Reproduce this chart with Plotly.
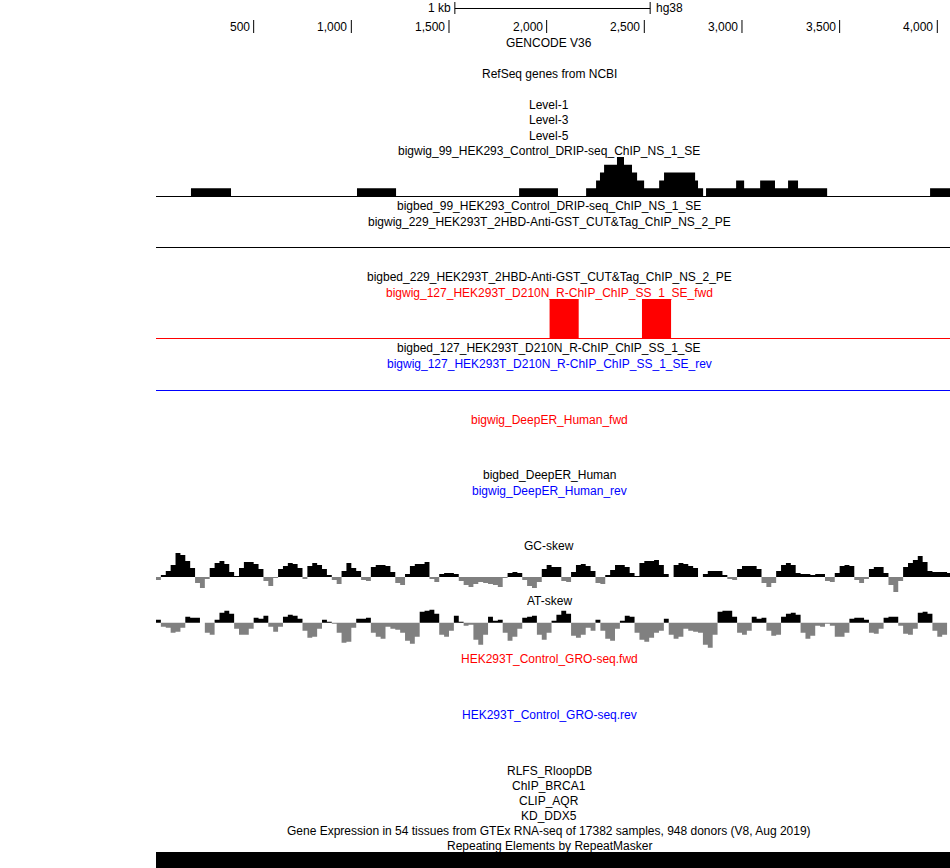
import plotly.graph_objects as go

W, H = 950, 868
X0_PX = 156
X_RANGE = [0, 4065]

# ---------------- data ----------------
ruler_ticks = [500, 1000, 1500, 2000, 2500, 3000, 3500, 4000]
ruler_labels = ["500", "1,000", "1,500", "2,000", "2,500", "3,000", "3,500", "4,000"]
scale_bar_start = 1530
scale_bar_len = 1000

# DRIP-seq signal (bigwig_99): segment start, end (bp) and level
drip_start = [179, 1029, 1859, 2202, 2253, 2273, 2294, 2360, 2396, 2437, 2463, 2499, 2576, 2601, 2760, 2775,
              2816, 2970, 3011, 3093, 3169, 3236, 3287, 3963]
drip_end = [384, 1229, 2058, 2253, 2273, 2294, 2360, 2396, 2437, 2463, 2499, 2576, 2601, 2760, 2775, 2801,
            2970, 3011, 3093, 3169, 3236, 3287, 3436, 4065]
drip_level = [1, 1, 1, 1, 2, 3, 4, 5, 4, 3, 2, 1, 2, 3, 2, 1,
              1, 2, 1, 2, 1, 2, 1, 1]

# R-ChIP fwd signal (bigwig_127 fwd)
rchip_start = [2015, 2488]
rchip_end = [2164, 2637]
rchip_level = [1, 1]

# GC / AT skew, 25 bp bins starting at 0
skew_bin = 25
gc_skew = [-3, 2, 6, 12, 24, 22, 16, 9, -6, -11, -2, 9, 14, 16, 13, 5, 1, 9, 15, 15,
           13, 8, -4, -9, -1, 8, 11, 14, 13, 9, -2, 11, 14, 12, 8, 2, -3, -7, 6, 14,
           9, 6, -3, -4, 10, 12, 12, 11, 5, -6, -8, 3, 11, 13, 13, 15, -2, -5, 3, 4,
           4, 3, -4, -8, -10, -7, -5, -6, -7, -8, -10, -1, 4, 5, 4, -3, -9, -11, -5, 8,
           12, 10, 10, -4, -5, 5, 12, 13, 11, 6, -6, -7, 2, 7, 12, 12, 10, 4, 1, 14,
           16, 16, 17, 12, 3, 0, 12, 14, 13, 11, 9, 0, 3, 6, 6, 6, 2, -2, -3, 8,
           11, 11, 11, 8, -6, -10, -6, 6, 12, 14, 12, 4, 3, 3, 2, 3, 3, -4, -5, 4,
           11, 12, 11, -3, -6, -2, 8, 10, 10, 4, -8, -15, -4, 10, 14, 17, 21, 15, 6, 5,
           5, 5, 4]
at_skew = [3, -4, -5, -10, -9, -5, 6, 5, 5, 0, -10, -12, 3, 10, 12, 9, -6, -12, -12, -6,
           5, 4, 7, -4, -9, -4, 6, 8, 7, 4, -8, -15, -14, -6, 3, 1, -1, -10, -20, -19,
           -5, 4, 4, 5, -10, -14, -16, -4, -6, -7, -10, -18, -21, -14, 11, 12, 13, 9, -12, -14,
           -8, 7, 1, -3, -2, -17, -22, -12, 6, 2, 3, -10, -18, -14, -6, 5, 6, 7, -12, -17,
           -10, 2, 8, 12, 9, -13, -15, -12, -5, -8, 3, -8, -16, -18, -6, 2, 7, 6, -10, -17,
           -19, -15, -10, -8, 4, -12, -16, -14, -6, -8, -9, -10, -22, -25, -12, 11, 12, 12, 6, -10,
           -12, -8, 6, 4, 5, -8, -13, -12, 6, 9, 10, 8, -10, -16, -13, -3, -4, -1, -3, -14,
           -14, -10, 4, 5, 5, 3, -10, -11, -6, 5, 6, 6, -3, -11, -12, -6, 10, 11, 9, -8,
           -14, -12, 0]

# RepeatMasker element covering the window
repeat_start = [0]
repeat_end = [4065]

# track labels: (text, y pixel, color)
labels = [
    ("GENCODE V36", 43, "black"),
    ("RefSeq genes from NCBI", 74, "black"),
    ("Level-1", 105, "black"),
    ("Level-3", 120, "black"),
    ("Level-5", 136, "black"),
    ("bigwig_99_HEK293_Control_DRIP-seq_ChIP_NS_1_SE", 151, "black"),
    ("bigbed_99_HEK293_Control_DRIP-seq_ChIP_NS_1_SE", 206, "black"),
    ("bigwig_229_HEK293T_2HBD-Anti-GST_CUT&Tag_ChIP_NS_2_PE", 222, "black"),
    ("bigbed_229_HEK293T_2HBD-Anti-GST_CUT&Tag_ChIP_NS_2_PE", 277, "black"),
    ("bigwig_127_HEK293T_D210N_R-ChIP_ChIP_SS_1_SE_fwd", 293, "#ff0000"),
    ("bigbed_127_HEK293T_D210N_R-ChIP_ChIP_SS_1_SE", 348, "black"),
    ("bigwig_127_HEK293T_D210N_R-ChIP_ChIP_SS_1_SE_rev", 364, "#0000ff"),
    ("bigwig_DeepER_Human_fwd", 420, "#ff0000"),
    ("bigbed_DeepER_Human", 475, "black"),
    ("bigwig_DeepER_Human_rev", 491, "#0000ff"),
    ("GC-skew", 546, "black"),
    ("AT-skew", 601, "black"),
    ("HEK293T_Control_GRO-seq.fwd", 659, "#ff0000"),
    ("HEK293T_Control_GRO-seq.rev", 715, "#0000ff"),
    ("RLFS_RloopDB", 771, "black"),
    ("ChIP_BRCA1", 786, "black"),
    ("CLIP_AQR", 801, "black"),
    ("KD_DDX5", 816, "black"),
    ("Gene Expression in 54 tissues from GTEx RNA-seq of 17382 samples, 948 donors (V8, Aug 2019)", 831, "black"),
    ("Repeating Elements by RepeatMasker", 846, "black"),
]

FONT = "Liberation Sans, Arial, sans-serif"
FS = 12
LABEL_CX = 549


def py(p):
    return 1 - p / H


def px(p):
    return p / W


def step_series(starts, ends, levels):
    xs, ys = [], []
    prev_end = None
    for s, e, v in zip(starts, ends, levels):
        if prev_end is not None and s > prev_end:
            xs.append(prev_end)
            ys.append(0)
        elif prev_end is None:
            xs.append(0)
            ys.append(0)
        xs.append(s)
        ys.append(v)
        prev_end = e
    xs.append(prev_end)
    ys.append(0)
    return xs, ys


def bins_series(vals, size, sign):
    xs = [i * size for i in range(len(vals))] + [len(vals) * size]
    if sign > 0:
        ys = [max(v, 0) for v in vals]
    else:
        ys = [min(v, 0) for v in vals]
    ys = ys + [ys[-1]]
    return xs, ys


fig = go.Figure()

# DRIP track
dx, dy = step_series(drip_start, drip_end, drip_level)
fig.add_trace(go.Scatter(x=dx, y=dy, mode="lines", line=dict(width=0, shape="hv"),
                         fill="tozeroy", fillcolor="black", xaxis="x", yaxis="y", hoverinfo="skip"))
# R-ChIP fwd
rx, ry = step_series(rchip_start, rchip_end, rchip_level)
fig.add_trace(go.Scatter(x=rx, y=ry, mode="lines", line=dict(width=0, shape="hv"),
                         fill="tozeroy", fillcolor="#ff0000", xaxis="x", yaxis="y2", hoverinfo="skip"))
# GC skew
for sign, col in [(1, "black"), (-1, "#808080")]:
    gx, gy = bins_series(gc_skew, skew_bin, sign)
    fig.add_trace(go.Scatter(x=gx, y=gy, mode="lines", line=dict(width=0, shape="hv"),
                             fill="tozeroy", fillcolor=col, xaxis="x", yaxis="y3", hoverinfo="skip"))
# AT skew
for sign, col in [(1, "black"), (-1, "#808080")]:
    ax_, ay_ = bins_series(at_skew, skew_bin, sign)
    fig.add_trace(go.Scatter(x=ax_, y=ay_, mode="lines", line=dict(width=0, shape="hv"),
                             fill="tozeroy", fillcolor=col, xaxis="x", yaxis="y4", hoverinfo="skip"))
# RepeatMasker
rpx, rpy = step_series(repeat_start, repeat_end, [1] * len(repeat_start))
fig.add_trace(go.Scatter(x=rpx, y=rpy, mode="lines", line=dict(width=0, shape="hv"),
                         fill="tozeroy", fillcolor="black", xaxis="x", yaxis="y5", hoverinfo="skip"))

shapes = []
annotations = []

# ruler ticks and labels
for t, lab in zip(ruler_ticks, ruler_labels):
    shapes.append(dict(type="line", xref="x", yref="paper", x0=t, x1=t, y0=py(33), y1=py(20),
                       line=dict(color="black", width=1)))
    annotations.append(dict(x=t, y=py(27), xref="x", yref="paper", text=lab, showarrow=False,
                            xanchor="right", yanchor="middle", xshift=-2,
                            font=dict(family=FONT, size=FS, color="black")))

# scale bar
sb0, sb1 = scale_bar_start, scale_bar_start + scale_bar_len
shapes.append(dict(type="line", xref="x", yref="paper", x0=sb0, x1=sb1, y0=py(8.5), y1=py(8.5),
                   line=dict(color="black", width=1)))
for xv in (sb0, sb1):
    shapes.append(dict(type="line", xref="x", yref="paper", x0=xv, x1=xv, y0=py(14), y1=py(2),
                       line=dict(color="black", width=1)))
annotations.append(dict(x=sb0, y=py(8), xref="x", yref="paper", text="1 kb", showarrow=False,
                        xanchor="right", yanchor="middle", xshift=-2,
                        font=dict(family=FONT, size=FS, color="black")))
annotations.append(dict(x=sb1, y=py(8), xref="x", yref="paper", text="hg38", showarrow=False,
                        xanchor="left", yanchor="middle", xshift=4,
                        font=dict(family=FONT, size=FS, color="black")))

# baselines (at pixel centres for crisp 1px lines)
for yline, col in [(196.5, "black"), (247.5, "black"), (338.5, "#ff0000"), (390.5, "#0000ff")]:
    shapes.append(dict(type="line", xref="paper", yref="paper", x0=px(X0_PX), x1=1,
                       y0=py(yline), y1=py(yline), line=dict(color=col, width=1)))

for text, yp, col in labels:
    annotations.append(dict(x=px(LABEL_CX), y=py(yp), xref="paper", yref="paper", text=text,
                            showarrow=False, xanchor="center", yanchor="middle",
                            font=dict(family=FONT, size=FS, color=col)))

hidden = dict(visible=False, fixedrange=True)
fig.update_layout(
    width=W, height=H,
    margin=dict(l=0, r=0, t=0, b=0),
    paper_bgcolor="white", plot_bgcolor="white",
    showlegend=False,
    xaxis=dict(domain=[px(X0_PX), 1], range=X_RANGE, **hidden),
    yaxis=dict(domain=[py(196), py(157)], range=[0, 5], anchor="x", **hidden),
    yaxis2=dict(domain=[py(338), py(299)], range=[0, 1], anchor="x", **hidden),
    yaxis3=dict(domain=[py(593), py(551)], range=[-16, 26], anchor="x", **hidden),
    yaxis4=dict(domain=[py(648.7), py(608.7)], range=[-26, 14], anchor="x", **hidden),
    yaxis5=dict(domain=[0, py(852)], range=[0, 1], anchor="x", **hidden),
    shapes=shapes,
    annotations=annotations,
)

fig.write_html("out.html", config={"displayModeBar": False},
               post_script="document.body.style.margin='0';document.body.style.overflow='hidden';")
